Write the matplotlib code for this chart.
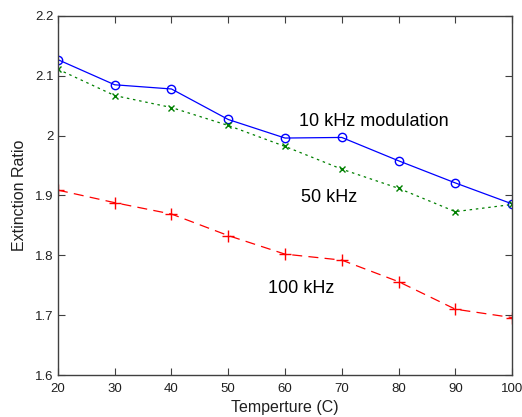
import matplotlib
matplotlib.use("Agg")
import matplotlib.pyplot as plt

temps = [20, 30, 40, 50, 60, 70, 80, 90, 100]
er_10k = [2.127, 2.085, 2.078, 2.027, 1.996, 1.997, 1.958, 1.921, 1.886]
er_50k = [2.111, 2.067, 2.047, 2.017, 1.982, 1.944, 1.912, 1.873, 1.885]
er_100k = [1.909, 1.888, 1.869, 1.833, 1.802, 1.792, 1.756, 1.710, 1.696]
xticks = [20, 30, 40, 50, 60, 70, 80, 90, 100]
yticks = [1.6, 1.7, 1.8, 1.9, 2.0, 2.1, 2.2]
ytick_labels = ["1.6", "1.7", "1.8", "1.9", "2", "2.1", "2.2"]

plt.rcParams['font.family'] = ['Liberation Sans', 'DejaVu Sans']

fig = plt.figure(figsize=(5.22, 4.17), dpi=100)
ax = fig.add_axes([0.111, 0.1007, 0.870, 0.861])

ax.plot(temps, er_10k, color='#0000ff', linestyle='-', marker='o', markersize=6,
        markerfacecolor='none', markeredgecolor='#0000ff', linewidth=0.9)
ax.plot(temps, er_50k, color='#008000', linestyle=(0, (2, 3)), marker='x', markersize=4,
        markeredgecolor='#008000', linewidth=0.9)
ax.plot(temps, er_100k, color='#ff0000', linestyle=(0, (8, 5)), marker='+', markersize=8,
        markeredgecolor='#ff0000', linewidth=0.9)

ax.set_xlim(20, 100)
ax.set_ylim(1.6, 2.2)
ax.set_xticks(xticks)
ax.set_yticks(yticks)
ax.set_yticklabels(ytick_labels)

for s in ax.spines.values():
    s.set_color('#404040')
    s.set_linewidth(1.0)
ax.tick_params(direction='in', length=5, width=0.8, color='#404040',
               top=True, right=True, labelsize=9.5, labelcolor='#202020')
ax.tick_params(axis='x', pad=6)
ax.tick_params(axis='y', pad=3)

ax.set_xlabel('Temperture (C)', fontsize=11.5, color='#202020', labelpad=3)
ax.set_ylabel('Extinction Ratio', fontsize=11.5, color='#202020', labelpad=6)

ax.text(62.4, 2.0235, '10 kHz modulation', fontsize=13, color='#000000', va='center', ha='left')
ax.text(62.9, 1.897, '50 kHz', fontsize=13, color='#000000', va='center', ha='left')
ax.text(57.0, 1.745, '100 kHz', fontsize=13, color='#000000', va='center', ha='left')

fig.savefig('out.png', dpi=100)
